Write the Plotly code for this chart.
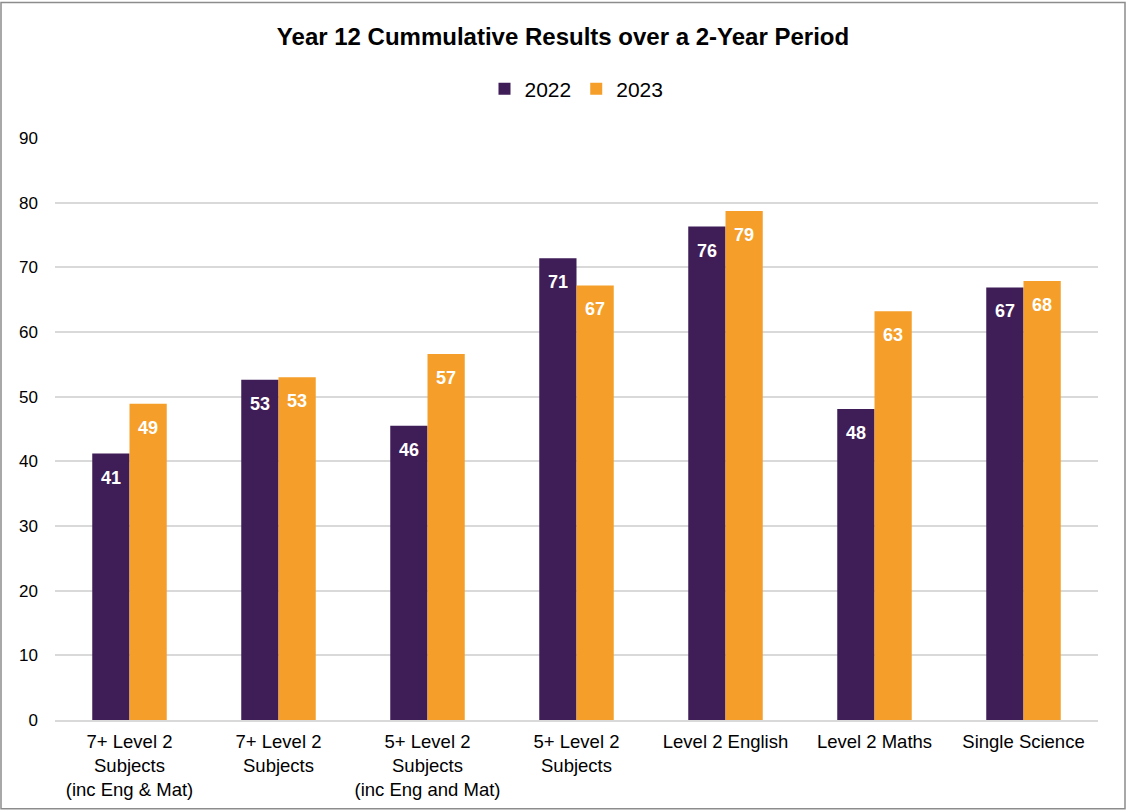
import plotly.graph_objects as go

categories = [
    "7+ Level 2<br>Subjects<br>(inc Eng & Mat)",
    "7+ Level 2<br>Subjects",
    "5+ Level 2<br>Subjects<br>(inc Eng and Mat)",
    "5+ Level 2<br>Subjects",
    "Level 2 English",
    "Level 2 Maths",
    "Single Science",
]
values_2022 = [41.2, 52.6, 45.5, 71.4, 76.3, 48.1, 66.9]
values_2023 = [48.9, 53.0, 56.6, 67.2, 78.7, 63.2, 67.9]
series_names = ["2022", "2023"]
colors = ["#3F1D57", "#F59F2A"]

W, H = 1126, 812
ml, mr, mt, mb = 55, 28, 138, 90
pw, ph = W - ml - mr, H - mt - mb
bargap = 0.5
bar_px = pw / len(categories) * (1 - bargap) / 2

fig = go.Figure()
annotations = []
for si, (name, vals, col) in enumerate(zip(series_names, [values_2022, values_2023], colors)):
    fig.add_trace(go.Bar(
        x=categories, y=vals, name=name, marker_color=col,
        marker_line_width=0,
    ))
    for cat, v in zip(categories, vals):
        annotations.append(dict(
            x=cat, y=v, xref="x", yref="y", text=f"<b>{round(v)}</b>",
            showarrow=False, xanchor="center", yanchor="middle",
            xshift=(si - 0.5) * bar_px, yshift=-24,
            font=dict(family="Liberation Sans", size=18, color="white"),
        ))

fig.update_layout(
    width=W, height=H,
    margin=dict(l=ml, r=mr, t=mt, b=mb, pad=0),
    paper_bgcolor="white", plot_bgcolor="white",
    barmode="group", bargap=bargap, bargroupgap=0,
    font=dict(family="Liberation Sans", size=18, color="#000000"),
    title=dict(text="<b>Year 12 Cummulative Results over a 2-Year Period</b>",
               x=0.5, xanchor="center", y=1 - 37 / H, yanchor="middle",
               font=dict(size=24, color="#000000")),
    legend=dict(orientation="h", x=0.5, xanchor="center",
                y=(722 - 89) / ph, yanchor="middle",
                font=dict(size=21), traceorder="normal"),
    yaxis=dict(range=[0, 90], dtick=10, showgrid=True, gridcolor="#D9D9D9",
               gridwidth=1.5, zeroline=False, showline=False, ticks="",
               tickfont=dict(size=17), ticklabelstandoff=16),
    xaxis=dict(showline=True, linecolor="#D9D9D9", linewidth=2, ticks="",
               tickfont=dict(size=18.5), ticklabelstandoff=4),
    annotations=annotations,
    shapes=[dict(type="rect", xref="paper", yref="paper",
                 x0=(1 - ml) / pw, x1=(W - 1 - ml) / pw,
                 y0=(722 - (H - 1)) / ph, y1=(722 - 2) / ph,
                 line=dict(color="#8C8C8C", width=1.5), fillcolor="rgba(0,0,0,0)",
                 layer="below")],
)

fig.write_html("out.html", config={"displayModeBar": False},
               post_script="document.body.style.margin='0';")
